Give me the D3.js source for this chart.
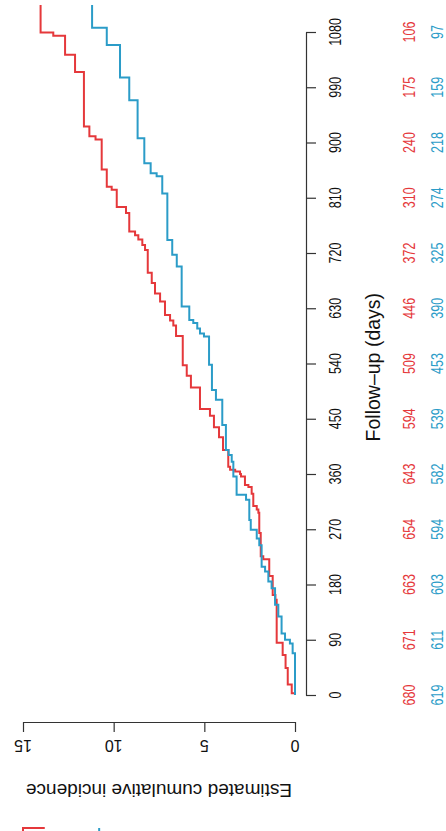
<!DOCTYPE html>
<html><head><meta charset="utf-8">
<script src="https://cdn.jsdelivr.net/npm/d3@7/dist/d3.min.js"></script>
<style>body{margin:0;background:#fff} svg{display:block}</style>
</head><body>
<svg id="c" width="446" height="831"></svg>
<script>
// ---- data ----
const dayTicks = [0, 90, 180, 270, 360, 450, 540, 630, 720, 810, 900, 990, 1080];
const incTicks = [0, 5, 10, 15];
const riskRed  = [680, 671, 663, 654, 643, 594, 509, 446, 372, 310, 240, 175, 106];
const riskBlue = [619, 611, 603, 594, 582, 539, 453, 390, 325, 274, 218, 159, 97];
const redTimes  = [3, 17, 44, 65, 85, 155, 163, 194, 221, 226, 264, 297, 302, 308, 328, 339, 342, 356, 360, 364, 367, 372, 399, 420, 436, 455, 466, 501, 520, 537, 585, 602, 610, 619, 641, 654, 671, 688, 725, 733, 742, 749, 755, 785, 795, 823, 828, 856, 905, 910, 926, 1015, 1043, 1074, 1079];
const redValues = [0.18, 0.40, 0.52, 0.68, 1.01, 1.08, 1.23, 1.42, 1.75, 1.89, 1.97, 2.02, 2.11, 2.30, 2.39, 2.57, 2.76, 2.98, 3.03, 3.30, 3.58, 3.68, 3.97, 4.19, 4.47, 4.69, 5.24, 5.74, 5.97, 6.19, 6.56, 6.71, 6.89, 7.17, 7.44, 7.72, 7.90, 8.12, 8.27, 8.42, 8.64, 8.82, 9.14, 9.32, 9.83, 10.11, 10.38, 10.66, 11.0, 11.34, 11.64, 12.13, 12.68, 13.33, 14.03];
const blueTimes  = [68, 84, 90, 100, 128, 147, 174, 185, 201, 209, 244, 255, 269, 285, 318, 326, 356, 380, 391, 399, 440, 481, 497, 538, 584, 589, 597, 606, 611, 633, 698, 717, 741, 817, 845, 850, 866, 907, 969, 1006, 1059, 1087];
const blueValues = [0.13, 0.28, 0.55, 0.74, 0.92, 1.10, 1.29, 1.47, 1.65, 1.84, 1.97, 2.11, 2.44, 2.52, 2.70, 3.22, 3.40, 3.49, 3.66, 3.81, 4.01, 4.36, 4.58, 4.74, 5.02, 5.24, 5.39, 5.61, 5.83, 6.25, 6.52, 6.77, 7.04, 7.32, 7.63, 7.96, 8.31, 8.68, 9.14, 9.65, 10.38, 11.19];
const followEnd = 1124;
const RED = "#e5383b", BLUE = "#2b9cc8";

// ---- layout ----
const svg = d3.select("#c");
const yDay = d3.scaleLinear().domain([0, 1080]).range([695, 32]);
const xInc = d3.scaleLinear().domain([0, 15]).range([295, 23]);
const FONT = "'Liberation Sans', Arial, Helvetica, sans-serif";

function stepPoints(times, values) {
  const pts = [[0, 0]];
  let prev = 0;
  times.forEach((t, i) => { pts.push([t, prev]); pts.push([t, values[i]]); prev = values[i]; });
  pts.push([followEnd, prev]);
  return pts;
}
const line = d3.line().x(d => xInc(d[1])).y(d => yDay(d[0]));

svg.append("path").attr("d", line(stepPoints(redTimes, redValues)))
  .attr("fill", "none").attr("stroke", RED).attr("stroke-width", 2);
svg.append("path").attr("d", line(stepPoints(blueTimes, blueValues)))
  .attr("fill", "none").attr("stroke", BLUE).attr("stroke-width", 2);

// days axis (vertical, right)
const ax = svg.append("g").attr("transform", "translate(306,0)")
  .call(d3.axisRight(yDay).tickValues(dayTicks).tickSize(10).tickSizeOuter(0).tickFormat(""));
ax.selectAll("path,line").attr("stroke", "#333").attr("stroke-width", 1.2);

const txt = (x, y, rot, s, col, size, sx) =>
  svg.append("text").attr("transform", `translate(${x},${y}) rotate(${rot}) scale(${sx},1)`)
    .attr("text-anchor", "middle").attr("dominant-baseline", "central")
    .attr("font-family", FONT).attr("font-size", size).attr("fill", col).text(s);

dayTicks.forEach(t => txt(335, yDay(t), -90, t, "#111", 16, 0.78));
riskRed.forEach((n, i) => txt(409, yDay(dayTicks[i]), -90, n, RED, 16, 0.78));
riskBlue.forEach((n, i) => txt(437, yDay(dayTicks[i]), -90, n, BLUE, 16, 0.78));
txt(373, yDay(534), -90, "Follow\u2013up (days)", "#111", 19.5, 1);

// incidence axis (horizontal, bottom)
const ay = svg.append("g").attr("transform", "translate(0,722)")
  .call(d3.axisBottom(xInc).tickValues(incTicks).tickSize(10).tickSizeOuter(0).tickFormat(""));
ay.selectAll("path,line").attr("stroke", "#333").attr("stroke-width", 1.2);
incTicks.forEach(v => txt(xInc(v), 745, 180, v, "#111", 16, 1));
txt(159, 790, 180, "Estimated cumulative incidence", "#111", 19, 1);

// legend keys (cut off at the bottom edge)
svg.append("path").attr("d", `M${xInc(15)},${836}V828H${xInc(13.8)}`)
  .attr("fill", "none").attr("stroke", RED).attr("stroke-width", 2);
svg.append("path").attr("d", `M${xInc(10.8)},${836}V828`)
  .attr("fill", "none").attr("stroke", BLUE).attr("stroke-width", 2);
</script>
</body></html>
